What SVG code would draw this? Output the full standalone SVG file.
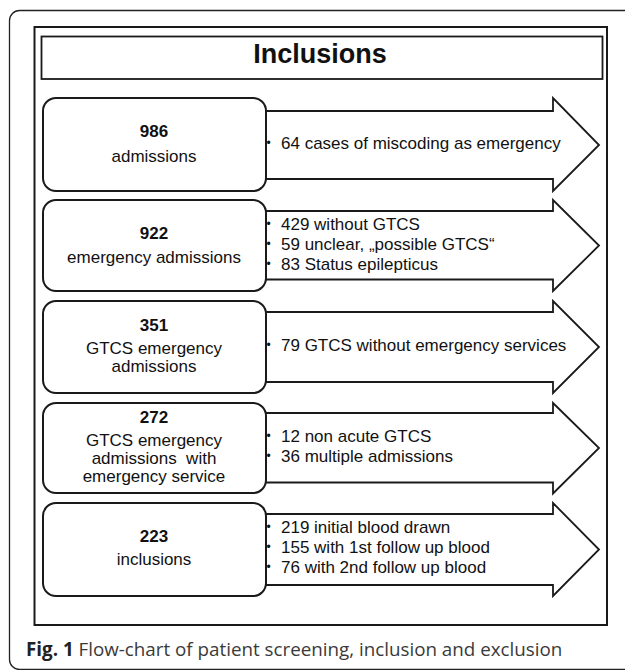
<svg xmlns="http://www.w3.org/2000/svg" width="625" height="670" viewBox="0 0 625 670">
<style>
.frame{fill:none;stroke:#222;stroke-width:1.3}
.panel{fill:#fff;stroke:#1a1a1a;stroke-width:2}
.tbox{fill:#fff;stroke:#1a1a1a;stroke-width:1.8}
.box{fill:#fff;stroke:#1a1a1a;stroke-width:2}
.arrow{fill:#fff;stroke:#1a1a1a;stroke-width:1.8;stroke-linejoin:miter}
text{font-family:"Liberation Sans",Arial,sans-serif;fill:#111}
.title{font-size:27px;font-weight:bold;text-anchor:middle}
.num{font-size:17px;font-weight:bold;text-anchor:middle}
.lbl{font-size:17px;text-anchor:middle}
.item{font-size:17px}
.bul{font-size:12px}
.cap{font-family:"Open Sans","Noto Sans",sans-serif;font-size:18.8px;fill:#3a3a3a}
.capb{font-weight:bold;fill:#222}
</style>
<rect width="625" height="670" fill="#fff"/>
<path class="frame" d="M 640 10.5 H 19.5 A 10 10 0 0 0 9.5 20.5 V 659.5 A 10 10 0 0 0 19.5 669.5 H 640"/>
<rect class="panel" x="34.5" y="27" width="572.5" height="598"/>
<g id="title">
<rect class="tbox" x="41.5" y="36.5" width="561" height="42.5"/>
<text class="title" x="320" y="63">Inclusions</text>
</g>
<g id="connectors">
<path class="arrow" d="M 250 111 H 553 V 98 L 599 145 L 553 191 V 179 H 250 Z"/>
<path class="arrow" d="M 250 211 H 553 V 200 L 599 245.5 L 553 291 V 279.5 H 250 Z"/>
<path class="arrow" d="M 250 312 H 553 V 301 L 599 347 L 553 393 V 382 H 250 Z"/>
<path class="arrow" d="M 250 413 H 553 V 403 L 599 448 L 553 493.5 V 482.5 H 250 Z"/>
<path class="arrow" d="M 250 514 H 553 V 503 L 599 549.5 L 553 596 V 585 H 250 Z"/>
</g>
<g id="node-admissions">
<rect class="box" x="43" y="98" width="223" height="93" rx="13"/>
<text class="num" x="154" y="137">986</text>
<text class="lbl" x="154" y="162">admissions</text>
</g>
<g id="excl-1">
<text class="bul" x="266.5" y="147">•</text>
<text class="item" x="281" y="149">64 cases of miscoding as emergency</text>
</g>
<g id="node-emergency">
<rect class="box" x="43" y="200" width="223" height="91" rx="13"/>
<text class="num" x="154" y="239">922</text>
<text class="lbl" x="154" y="263">emergency admissions</text>
</g>
<g id="excl-2">
<text class="bul" x="266.5" y="228">•</text>
<text class="item" x="281" y="230">429 without GTCS</text>
<text class="bul" x="266.5" y="248">•</text>
<text class="item" x="281" y="250">59 unclear, „possible GTCS“</text>
<text class="bul" x="266.5" y="268">•</text>
<text class="item" x="281" y="270">83 Status epilepticus</text>
</g>
<g id="node-gtcs">
<rect class="box" x="43" y="301" width="223" height="92" rx="13"/>
<text class="num" x="154" y="331">351</text>
<text class="lbl" x="154" y="354">GTCS emergency</text>
<text class="lbl" x="154" y="372">admissions</text>
</g>
<g id="excl-3">
<text class="bul" x="266.5" y="349">•</text>
<text class="item" x="281" y="351">79 GTCS without emergency services</text>
</g>
<g id="node-gtcs-ems">
<rect class="box" x="43" y="403" width="223" height="90" rx="13"/>
<text class="num" x="154" y="423">272</text>
<text class="lbl" x="154" y="446">GTCS emergency</text>
<text class="lbl" x="154" y="464" xml:space="preserve">admissions  with</text>
<text class="lbl" x="154" y="482">emergency service</text>
</g>
<g id="excl-4">
<text class="bul" x="266.5" y="440">•</text>
<text class="item" x="281" y="442">12 non acute GTCS</text>
<text class="bul" x="266.5" y="460">•</text>
<text class="item" x="281" y="462">36 multiple admissions</text>
</g>
<g id="node-inclusions">
<rect class="box" x="43" y="503" width="223" height="93" rx="13"/>
<text class="num" x="154" y="542">223</text>
<text class="lbl" x="154" y="565">inclusions</text>
</g>
<g id="details-5">
<text class="bul" x="266.5" y="531">•</text>
<text class="item" x="281" y="533">219 initial blood drawn</text>
<text class="bul" x="266.5" y="551">•</text>
<text class="item" x="281" y="553">155 with 1st follow up blood</text>
<text class="bul" x="266.5" y="571">•</text>
<text class="item" x="281" y="573">76 with 2nd follow up blood</text>
</g>
<text class="cap" x="26" y="656"><tspan class="capb">Fig. 1</tspan> Flow-chart of patient screening, inclusion and exclusion</text>
</svg>
